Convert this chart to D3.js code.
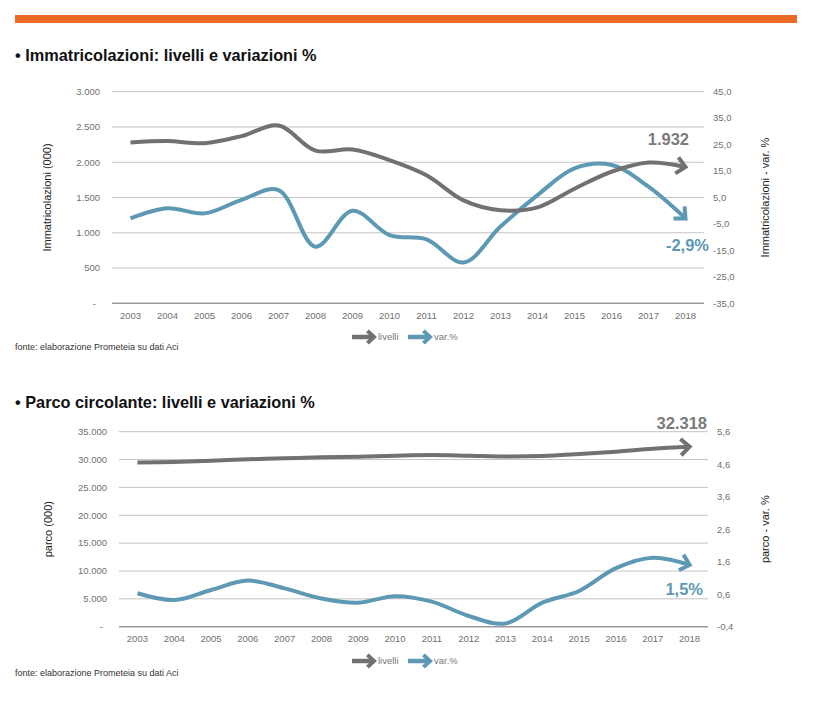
<!DOCTYPE html>
<html>
<head>
<meta charset="utf-8">
<script src="https://cdn.jsdelivr.net/npm/d3@7"></script>
<style>
  body { margin: 0; background: #fff; }
  svg { display: block; font-family: "Liberation Sans", Arial, sans-serif; }
  .tick-label { fill: #707070; font-size: 9.5px; }
  .axis-title { fill: #222; font-size: 11px; }
  .title { fill: #111; font-size: 16.3px; font-weight: bold; }
  .source { fill: #333; font-size: 9px; }
  .legend { fill: #777; font-size: 9.5px; }
</style>
</head>
<body>
<svg id="chart" width="813" height="715"></svg>
<script>
// --- data ---
const years = d3.range(2003, 2019).map(String);

// chart 1: immatricolazioni
const immatLevels = [2280, 2300, 2270, 2370, 2520, 2165, 2180, 2030, 1815, 1460, 1320, 1360, 1625, 1865, 1995, 1932];
const immatVar = [-2.9, 0.9, -1.0, 4.1, 7.8, -13.6, 0.0, -9.2, -10.8, -19.6, -6.0, 5.9, 16.0, 17.3, 9.1, -2.9];
const immatLeftTicks = [0, 500, 1000, 1500, 2000, 2500, 3000];
const immatRightTicks = [-35, -25, -15, -5, 5, 15, 25, 35, 45];

// chart 2: parco circolante
const parcoLevels = [29450, 29580, 29780, 30040, 30220, 30400, 30520, 30700, 30820, 30700, 30560, 30640, 31000, 31420, 31950, 32318];
const parcoVar = [0.63, 0.42, 0.73, 1.02, 0.78, 0.47, 0.34, 0.54, 0.37, -0.07, -0.30, 0.34, 0.70, 1.40, 1.72, 1.5];
const parcoLeftTicks = [0, 5000, 10000, 15000, 20000, 25000, 30000, 35000];
const parcoRightTicks = [-0.4, 0.6, 1.6, 2.6, 3.6, 4.6, 5.6];

const GRAY = "#717171";
const BLUE = "#5d99b4";

const svg = d3.select("#chart");

// orange band on top
svg.append("rect").attr("x", 15).attr("y", 15).attr("width", 782).attr("height", 8).attr("fill", "#ea6b24");

const itThousands = d3.formatLocale({ decimal: ",", thousands: ".", grouping: [3], currency: ["€", ""] });
const fmtLeft = v => v === 0 ? "-" : itThousands.format(",")(v);
const fmtRight = v => itThousands.format(".1f")(v).replace("−", "-");

function arrowHead(g, path, color, w, size) {
    const node = path.node();
    const len = node.getTotalLength();
    const p1 = node.getPointAtLength(len);
    const p0 = node.getPointAtLength(len - 5);
    const a = Math.atan2(p1.y - p0.y, p1.x - p0.x);
    const spread = 0.75;
    const pts = [
        [p1.x - size * Math.cos(a - spread), p1.y - size * Math.sin(a - spread)],
        [p1.x, p1.y],
        [p1.x - size * Math.cos(a + spread), p1.y - size * Math.sin(a + spread)]
    ];
    g.append("path").attr("d", d3.line()(pts))
        .attr("fill", "none").attr("stroke", color).attr("stroke-width", w)
        .attr("stroke-linejoin", "miter").attr("stroke-linecap", "butt");
}

function drawChart(cfg) {
    const g = svg.append("g");
    const x = d3.scalePoint().domain(years).range([cfg.x0, cfg.x1]).padding(0.5);
    const yL = d3.scaleLinear().domain(cfg.leftDomain).range([cfg.yBot, cfg.yTop]);
    const yR = d3.scaleLinear().domain(cfg.rightDomain).range([cfg.yBot, cfg.yTop]);

    // gridlines
    g.append("g").selectAll("line").data(cfg.leftTicks).join("line")
        .attr("x1", cfg.x0).attr("x2", cfg.x1)
        .attr("y1", d => yL(d)).attr("y2", d => yL(d))
        .attr("stroke", d => d === 0 ? "#9a9a9a" : "#c4c4c4").attr("stroke-width", d => d === 0 ? 1.4 : 1);

    // left tick labels
    g.append("g").selectAll("text").data(cfg.leftTicks).join("text")
        .attr("class", "tick-label")
        .attr("x", d => d === 0 ? cfg.leftLabelX - 4 : cfg.leftLabelX)
        .attr("y", d => yL(d)).attr("dy", "0.35em").attr("text-anchor", "end")
        .text(fmtLeft);

    // right tick labels
    g.append("g").selectAll("text").data(cfg.rightTicks).join("text")
        .attr("class", "tick-label")
        .attr("x", cfg.rightLabelX).attr("y", d => yR(d)).attr("dy", "0.35em")
        .text(fmtRight);

    // year labels
    g.append("g").selectAll("text").data(years).join("text")
        .attr("class", "tick-label")
        .attr("x", d => x(d)).attr("y", cfg.yBot + 12).attr("dy", "0.35em").attr("text-anchor", "middle")
        .text(d => d);

    // axis titles
    const midY = (cfg.yTop + cfg.yBot) / 2;
    g.append("text").attr("class", "axis-title")
        .attr("transform", `translate(${cfg.leftTitleX},${midY}) rotate(-90)`)
        .attr("text-anchor", "middle").attr("dy", "0.35em").text(cfg.leftTitle);
    g.append("text").attr("class", "axis-title")
        .attr("transform", `translate(765,${midY}) rotate(-90)`)
        .attr("text-anchor", "middle").attr("dy", "0.35em").text(cfg.rightTitle);

    // lines
    const curve = d3.curveCatmullRom.alpha(0.5);
    const levelLine = d3.line().x((d, i) => x(years[i])).y(d => yL(d)).curve(curve);
    const varLine = d3.line().x((d, i) => x(years[i])).y(d => yR(d)).curve(curve);

    const pv = g.append("path").attr("d", varLine(cfg.varData))
        .attr("fill", "none").attr("stroke", BLUE).attr("stroke-width", 4);
    arrowHead(g, pv, BLUE, 4, 12);
    const pl = g.append("path").attr("d", levelLine(cfg.levelData))
        .attr("fill", "none").attr("stroke", GRAY).attr("stroke-width", 4);
    arrowHead(g, pl, GRAY, 4, 12);

    // end annotations
    g.append("text").attr("x", cfg.levelLabel.x).attr("y", cfg.levelLabel.y).attr("dy", "0.35em")
        .attr("text-anchor", "end").attr("fill", "#7b7b7b")
        .style("font-size", "16.5px").style("font-weight", "bold").text(cfg.levelLabel.text);
    g.append("text").attr("x", cfg.varLabel.x).attr("y", cfg.varLabel.y).attr("dy", "0.35em")
        .attr("text-anchor", "end").attr("fill", BLUE)
        .style("font-size", "16.5px").style("font-weight", "bold").text(cfg.varLabel.text);

    // legend
    const lg = g.append("g").attr("transform", `translate(352,${cfg.legendY})`);
    [[0, GRAY, "livelli"], [56, BLUE, "var.%"]].forEach(([dx, c, t]) => {
        const p = lg.append("path").attr("d", `M${dx},0 L${dx + 22},0`)
            .attr("stroke", c).attr("stroke-width", 4.5);
        arrowHead(lg, p, c, 4, 9);
        lg.append("text").attr("class", "legend").attr("x", dx + 26).attr("y", 0).attr("dy", "0.35em").text(t);
    });

    // source
    g.append("text").attr("class", "source").attr("x", 15).attr("y", cfg.sourceY).attr("dy", "0.35em")
        .text("fonte: elaborazione Prometeia su dati Aci");

    // title
    g.append("text").attr("class", "title").attr("x", 15).attr("y", cfg.titleY).attr("dy", "0.35em")
        .text(cfg.title);
}

drawChart({
    title: "• Immatricolazioni: livelli e variazioni %",
    titleY: 55,
    x0: 112, x1: 704, yTop: 91.7, yBot: 303.3,
    leftDomain: [0, 3000], rightDomain: [-35, 45],
    leftTicks: immatLeftTicks, rightTicks: immatRightTicks,
    leftLabelX: 100, rightLabelX: 713, leftTitleX: 47,
    leftTitle: "Immatricolazioni (000)", rightTitle: "Immatricolazioni - var. %",
    levelData: immatLevels, varData: immatVar,
    levelLabel: { x: 689, y: 139, text: "1.932" },
    varLabel: { x: 709, y: 245, text: "-2,9%" },
    legendY: 337, sourceY: 347
});

drawChart({
    title: "• Parco circolante: livelli e variazioni %",
    titleY: 402,
    x0: 119, x1: 708, yTop: 431.7, yBot: 626.7,
    leftDomain: [0, 35000], rightDomain: [-0.4, 5.6],
    leftTicks: parcoLeftTicks, rightTicks: parcoRightTicks,
    leftLabelX: 107, rightLabelX: 717, leftTitleX: 48,
    leftTitle: "parco (000)", rightTitle: "parco - var. %",
    levelData: parcoLevels, varData: parcoVar,
    levelLabel: { x: 707, y: 423, text: "32.318" },
    varLabel: { x: 703, y: 589, text: "1,5%" },
    legendY: 661, sourceY: 673
});
</script>
</body>
</html>
